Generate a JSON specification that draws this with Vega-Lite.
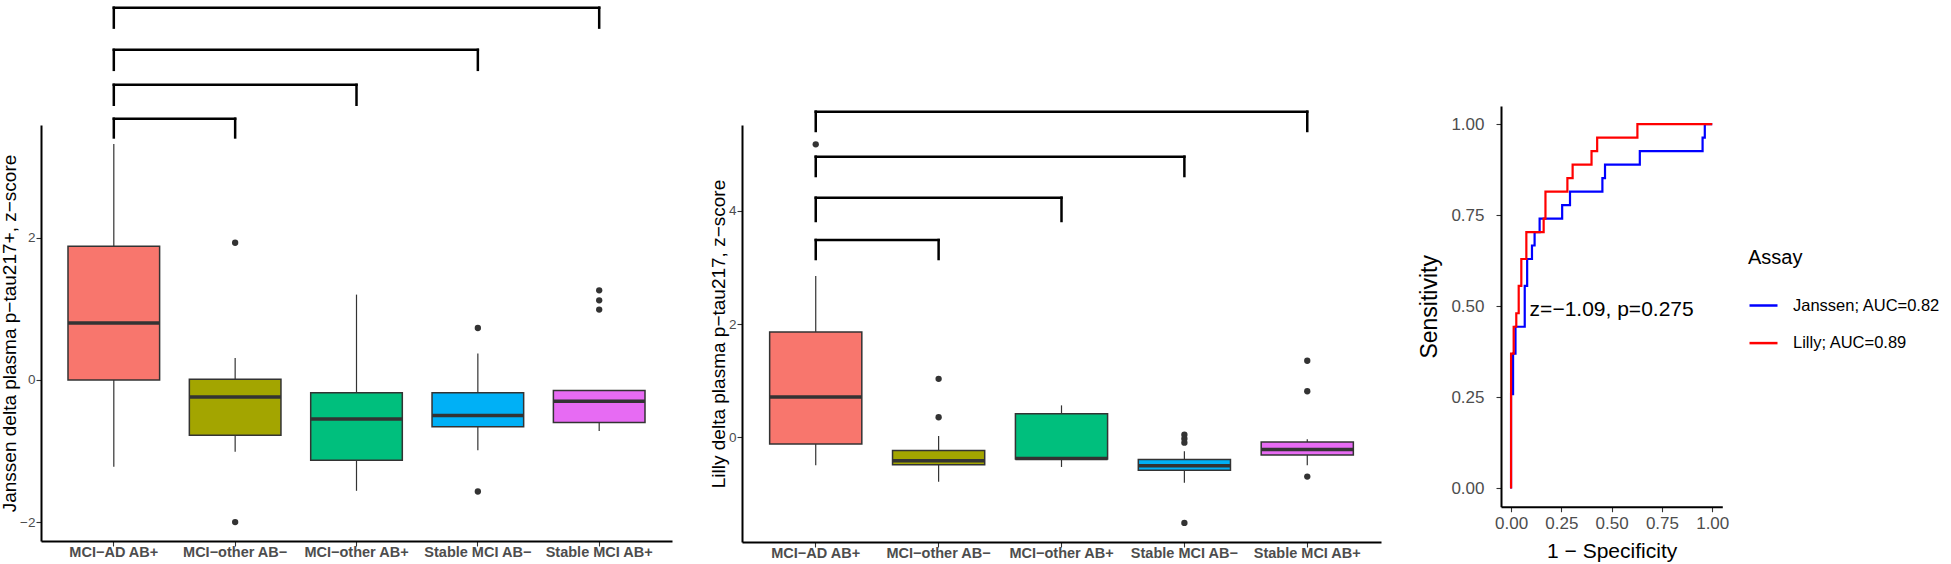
{
  "$schema": "https://vega.github.io/schema/vega-lite/v6.json",
  "background": "white",
  "padding": {"left": 0, "top": 5, "right": 0, "bottom": 0},
  "spacing": 37,
  "resolve": {"legend": {"color": "independent"}},
  "config": {
    "view": {"stroke": null},
    "font": "Liberation Sans",
    "axis": {
      "grid": false,
      "domainColor": "#000000",
      "domainWidth": 2,
      "tickColor": "#333333",
      "tickWidth": 1.1,
      "tickSize": 5,
      "labelColor": "#4D4D4D",
      "labelFont": "Liberation Sans",
      "titleFont": "Liberation Sans",
      "titleFontWeight": "normal",
      "titleColor": "#000000"
    }
  },
  "datasets": {
    "janssen_box": [
      {"group": "MCI−AD AB+", "lower": -1.22, "q1": 0.0, "median": 0.8, "q3": 1.88, "upper": 3.32},
      {"group": "MCI−other AB−", "lower": -1.01, "q1": -0.78, "median": -0.24, "q3": 0.01, "upper": 0.31},
      {"group": "MCI−other AB+", "lower": -1.56, "q1": -1.13, "median": -0.55, "q3": -0.18, "upper": 1.2},
      {"group": "Stable MCI AB−", "lower": -0.99, "q1": -0.66, "median": -0.5, "q3": -0.18, "upper": 0.37},
      {"group": "Stable MCI AB+", "lower": -0.72, "q1": -0.6, "median": -0.3, "q3": -0.15, "upper": -0.15}
    ],
    "janssen_out": [
      {"group": "MCI−other AB−", "value": 1.93},
      {"group": "MCI−other AB−", "value": -2.0},
      {"group": "Stable MCI AB−", "value": 0.73},
      {"group": "Stable MCI AB−", "value": -1.57},
      {"group": "Stable MCI AB+", "value": 1.26},
      {"group": "Stable MCI AB+", "value": 1.12},
      {"group": "Stable MCI AB+", "value": 0.99}
    ],
    "janssen_brackets": [
      {"g1": "MCI−AD AB+", "g2": "Stable MCI AB+", "top": 5.236, "tip": 4.956},
      {"g1": "MCI−AD AB+", "g2": "Stable MCI AB−", "top": 4.643, "tip": 4.362},
      {"g1": "MCI−AD AB+", "g2": "MCI−other AB+", "top": 4.151, "tip": 3.871},
      {"g1": "MCI−AD AB+", "g2": "MCI−other AB−", "top": 3.674, "tip": 3.411}
    ],
    "lilly_box": [
      {"group": "MCI−AD AB+", "lower": -0.5, "q1": -0.124, "median": 0.71, "q3": 1.86, "upper": 2.85},
      {"group": "MCI−other AB−", "lower": -0.79, "q1": -0.49, "median": -0.42, "q3": -0.24, "upper": 0.02},
      {"group": "MCI−other AB+", "lower": -0.53, "q1": -0.39, "median": -0.38, "q3": 0.41, "upper": 0.56},
      {"group": "Stable MCI AB−", "lower": -0.81, "q1": -0.59, "median": -0.51, "q3": -0.4, "upper": -0.25},
      {"group": "Stable MCI AB+", "lower": -0.5, "q1": -0.32, "median": -0.22, "q3": -0.09, "upper": -0.04}
    ],
    "lilly_out": [
      {"group": "MCI−AD AB+", "value": 5.18},
      {"group": "MCI−other AB−", "value": 1.03},
      {"group": "MCI−other AB−", "value": 0.35},
      {"group": "Stable MCI AB−", "value": 0.04},
      {"group": "Stable MCI AB−", "value": -0.03},
      {"group": "Stable MCI AB−", "value": -0.1},
      {"group": "Stable MCI AB−", "value": -1.52},
      {"group": "Stable MCI AB+", "value": 1.35},
      {"group": "Stable MCI AB+", "value": 0.81},
      {"group": "Stable MCI AB+", "value": -0.7}
    ],
    "lilly_brackets": [
      {"g1": "MCI−AD AB+", "g2": "Stable MCI AB+", "top": 5.758, "tip": 5.416},
      {"g1": "MCI−AD AB+", "g2": "Stable MCI AB−", "top": 4.961, "tip": 4.619},
      {"g1": "MCI−AD AB+", "g2": "MCI−other AB+", "top": 4.235, "tip": 3.823},
      {"g1": "MCI−AD AB+", "g2": "MCI−other AB−", "top": 3.487, "tip": 3.15}
    ],
    "roc": [
      {"assay": "Janssen; AUC=0.82", "i": 0, "fpr": 0, "tpr": 0},
      {"assay": "Janssen; AUC=0.82", "i": 1, "fpr": 0, "tpr": 0.259},
      {"assay": "Janssen; AUC=0.82", "i": 2, "fpr": 0.01, "tpr": 0.259},
      {"assay": "Janssen; AUC=0.82", "i": 3, "fpr": 0.01, "tpr": 0.37},
      {"assay": "Janssen; AUC=0.82", "i": 4, "fpr": 0.022, "tpr": 0.37},
      {"assay": "Janssen; AUC=0.82", "i": 5, "fpr": 0.022, "tpr": 0.444},
      {"assay": "Janssen; AUC=0.82", "i": 6, "fpr": 0.068, "tpr": 0.444},
      {"assay": "Janssen; AUC=0.82", "i": 7, "fpr": 0.068, "tpr": 0.556},
      {"assay": "Janssen; AUC=0.82", "i": 8, "fpr": 0.08, "tpr": 0.556},
      {"assay": "Janssen; AUC=0.82", "i": 9, "fpr": 0.08, "tpr": 0.63},
      {"assay": "Janssen; AUC=0.82", "i": 10, "fpr": 0.104, "tpr": 0.63},
      {"assay": "Janssen; AUC=0.82", "i": 11, "fpr": 0.104, "tpr": 0.667},
      {"assay": "Janssen; AUC=0.82", "i": 12, "fpr": 0.117, "tpr": 0.667},
      {"assay": "Janssen; AUC=0.82", "i": 13, "fpr": 0.117, "tpr": 0.704},
      {"assay": "Janssen; AUC=0.82", "i": 14, "fpr": 0.142, "tpr": 0.704},
      {"assay": "Janssen; AUC=0.82", "i": 15, "fpr": 0.142, "tpr": 0.741},
      {"assay": "Janssen; AUC=0.82", "i": 16, "fpr": 0.254, "tpr": 0.741},
      {"assay": "Janssen; AUC=0.82", "i": 17, "fpr": 0.254, "tpr": 0.778},
      {"assay": "Janssen; AUC=0.82", "i": 18, "fpr": 0.293, "tpr": 0.778},
      {"assay": "Janssen; AUC=0.82", "i": 19, "fpr": 0.293, "tpr": 0.815},
      {"assay": "Janssen; AUC=0.82", "i": 20, "fpr": 0.454, "tpr": 0.815},
      {"assay": "Janssen; AUC=0.82", "i": 21, "fpr": 0.454, "tpr": 0.852},
      {"assay": "Janssen; AUC=0.82", "i": 22, "fpr": 0.467, "tpr": 0.852},
      {"assay": "Janssen; AUC=0.82", "i": 23, "fpr": 0.467, "tpr": 0.889},
      {"assay": "Janssen; AUC=0.82", "i": 24, "fpr": 0.64, "tpr": 0.889},
      {"assay": "Janssen; AUC=0.82", "i": 25, "fpr": 0.64, "tpr": 0.926},
      {"assay": "Janssen; AUC=0.82", "i": 26, "fpr": 0.952, "tpr": 0.926},
      {"assay": "Janssen; AUC=0.82", "i": 27, "fpr": 0.952, "tpr": 0.963},
      {"assay": "Janssen; AUC=0.82", "i": 28, "fpr": 0.963, "tpr": 0.963},
      {"assay": "Janssen; AUC=0.82", "i": 29, "fpr": 0.963, "tpr": 1.0},
      {"assay": "Janssen; AUC=0.82", "i": 30, "fpr": 1.0, "tpr": 1.0},
      {"assay": "Lilly; AUC=0.89", "i": 0, "fpr": 0, "tpr": 0},
      {"assay": "Lilly; AUC=0.89", "i": 1, "fpr": 0, "tpr": 0.37},
      {"assay": "Lilly; AUC=0.89", "i": 2, "fpr": 0.013, "tpr": 0.37},
      {"assay": "Lilly; AUC=0.89", "i": 3, "fpr": 0.013, "tpr": 0.444},
      {"assay": "Lilly; AUC=0.89", "i": 4, "fpr": 0.026, "tpr": 0.444},
      {"assay": "Lilly; AUC=0.89", "i": 5, "fpr": 0.026, "tpr": 0.481},
      {"assay": "Lilly; AUC=0.89", "i": 6, "fpr": 0.038, "tpr": 0.481},
      {"assay": "Lilly; AUC=0.89", "i": 7, "fpr": 0.038, "tpr": 0.556},
      {"assay": "Lilly; AUC=0.89", "i": 8, "fpr": 0.051, "tpr": 0.556},
      {"assay": "Lilly; AUC=0.89", "i": 9, "fpr": 0.051, "tpr": 0.63},
      {"assay": "Lilly; AUC=0.89", "i": 10, "fpr": 0.076, "tpr": 0.63},
      {"assay": "Lilly; AUC=0.89", "i": 11, "fpr": 0.076, "tpr": 0.704},
      {"assay": "Lilly; AUC=0.89", "i": 12, "fpr": 0.162, "tpr": 0.704},
      {"assay": "Lilly; AUC=0.89", "i": 13, "fpr": 0.162, "tpr": 0.741},
      {"assay": "Lilly; AUC=0.89", "i": 14, "fpr": 0.171, "tpr": 0.741},
      {"assay": "Lilly; AUC=0.89", "i": 15, "fpr": 0.171, "tpr": 0.815},
      {"assay": "Lilly; AUC=0.89", "i": 16, "fpr": 0.28, "tpr": 0.815},
      {"assay": "Lilly; AUC=0.89", "i": 17, "fpr": 0.28, "tpr": 0.852},
      {"assay": "Lilly; AUC=0.89", "i": 18, "fpr": 0.306, "tpr": 0.852},
      {"assay": "Lilly; AUC=0.89", "i": 19, "fpr": 0.306, "tpr": 0.889},
      {"assay": "Lilly; AUC=0.89", "i": 20, "fpr": 0.4, "tpr": 0.889},
      {"assay": "Lilly; AUC=0.89", "i": 21, "fpr": 0.4, "tpr": 0.926},
      {"assay": "Lilly; AUC=0.89", "i": 22, "fpr": 0.428, "tpr": 0.926},
      {"assay": "Lilly; AUC=0.89", "i": 23, "fpr": 0.428, "tpr": 0.963},
      {"assay": "Lilly; AUC=0.89", "i": 24, "fpr": 0.628, "tpr": 0.963},
      {"assay": "Lilly; AUC=0.89", "i": 25, "fpr": 0.628, "tpr": 1.0},
      {"assay": "Lilly; AUC=0.89", "i": 26, "fpr": 1.0, "tpr": 1.0}
    ],
    "roc_note": [
      {"x": 0.5, "y": 0.49, "label": "z=−1.09, p=0.275"}
    ]
  },
  "hconcat": [
    {
      "width": 631,
      "height": 416,
      "layer": [
        {
          "data": {"name": "janssen_box"},
          "mark": {"type": "rule", "color": "#333333", "strokeWidth": 1.2},
          "encoding": {
            "x": {"field": "group", "type": "nominal", "title": null,
              "scale": {"type": "band", "domain": ["MCI−AD AB+", "MCI−other AB−", "MCI−other AB+", "Stable MCI AB−", "Stable MCI AB+"], "paddingInner": 0, "paddingOuter": 0.1},
              "axis": {"labelAngle": 0, "labelFont": "Liberation Sans", "labelFontWeight": "bold", "labelFontSize": 14.5, "labelPadding": -1}},
            "y": {"field": "lower", "type": "quantitative", "title": "Janssen delta plasma p−tau217+, z−score",
              "scale": {"domain": [-2.266, 3.586], "nice": false, "zero": false},
              "axis": {"values": [-2, 0, 2], "format": ".0f", "labelFontSize": 13.5, "labelPadding": 1, "titleFontSize": 19, "titlePadding": 0}},
            "y2": {"field": "upper"}
          }
        },
        {
          "data": {"name": "janssen_box"},
          "mark": {"type": "bar", "width": {"band": 0.755}, "stroke": "#333333", "strokeWidth": 1.5},
          "encoding": {
            "x": {"field": "group", "type": "nominal", "title": null},
            "y": {"field": "q1", "type": "quantitative", "title": "Janssen delta plasma p−tau217+, z−score"},
            "y2": {"field": "q3"},
            "fill": {"field": "group", "type": "nominal", "legend": null,
              "scale": {"domain": ["MCI−AD AB+", "MCI−other AB−", "MCI−other AB+", "Stable MCI AB−", "Stable MCI AB+"], "range": ["#F8766D", "#A3A500", "#00BF7D", "#00B0F6", "#E76BF3"]}}
          }
        },
        {
          "data": {"name": "janssen_box"},
          "mark": {"type": "tick", "color": "#333333", "size": 91.6, "thickness": 3.5, "orient": "horizontal", "opacity": 1},
          "encoding": {
            "x": {"field": "group", "type": "nominal", "title": null},
            "y": {"field": "median", "type": "quantitative", "title": "Janssen delta plasma p−tau217+, z−score"}
          }
        },
        {
          "data": {"name": "janssen_out"},
          "mark": {"type": "circle", "color": "#333333", "opacity": 1, "size": 40},
          "encoding": {
            "x": {"field": "group", "type": "nominal", "title": null},
            "y": {"field": "value", "type": "quantitative", "title": "Janssen delta plasma p−tau217+, z−score"}
          }
        },
        {
          "data": {"name": "janssen_brackets"},
          "mark": {"type": "rule", "color": "#000000", "strokeWidth": 2.5, "strokeCap": "square"},
          "encoding": {
            "x": {"field": "g1", "type": "nominal", "title": null},
            "x2": {"field": "g2"},
            "y": {"field": "top", "type": "quantitative", "title": "Janssen delta plasma p−tau217+, z−score"}
          }
        },
        {
          "data": {"name": "janssen_brackets"},
          "mark": {"type": "rule", "color": "#000000", "strokeWidth": 2.5, "strokeCap": "square"},
          "encoding": {
            "x": {"field": "g1", "type": "nominal", "title": null},
            "y": {"field": "top", "type": "quantitative", "title": "Janssen delta plasma p−tau217+, z−score"},
            "y2": {"field": "tip"}
          }
        },
        {
          "data": {"name": "janssen_brackets"},
          "mark": {"type": "rule", "color": "#000000", "strokeWidth": 2.5, "strokeCap": "square"},
          "encoding": {
            "x": {"field": "g2", "type": "nominal", "title": null},
            "y": {"field": "top", "type": "quantitative", "title": "Janssen delta plasma p−tau217+, z−score"},
            "y2": {"field": "tip"}
          }
        }
      ]
    },
    {
      "width": 639,
      "height": 417,
      "layer": [
        {
          "data": {"name": "lilly_box"},
          "mark": {"type": "rule", "color": "#333333", "strokeWidth": 1.2},
          "encoding": {
            "x": {"field": "group", "type": "nominal", "title": null,
              "scale": {"type": "band", "domain": ["MCI−AD AB+", "MCI−other AB−", "MCI−other AB+", "Stable MCI AB−", "Stable MCI AB+"], "paddingInner": 0, "paddingOuter": 0.1},
              "axis": {"labelAngle": 0, "labelFont": "Liberation Sans", "labelFontWeight": "bold", "labelFontSize": 14.5, "labelPadding": -1}},
            "y": {"field": "lower", "type": "quantitative", "title": "Lilly delta plasma p−tau217, z−score",
              "scale": {"domain": [-1.858, 5.522], "nice": false, "zero": false},
              "axis": {"values": [0, 2, 4], "format": ".0f", "labelFontSize": 13.5, "labelPadding": 1, "titleFontSize": 19, "titlePadding": 0}},
            "y2": {"field": "upper"}
          }
        },
        {
          "data": {"name": "lilly_box"},
          "mark": {"type": "bar", "width": {"band": 0.75}, "stroke": "#333333", "strokeWidth": 1.5},
          "encoding": {
            "x": {"field": "group", "type": "nominal", "title": null},
            "y": {"field": "q1", "type": "quantitative", "title": "Lilly delta plasma p−tau217, z−score"},
            "y2": {"field": "q3"},
            "fill": {"field": "group", "type": "nominal", "legend": null,
              "scale": {"domain": ["MCI−AD AB+", "MCI−other AB−", "MCI−other AB+", "Stable MCI AB−", "Stable MCI AB+"], "range": ["#F8766D", "#A3A500", "#00BF7D", "#00B0F6", "#E76BF3"]}}
          }
        },
        {
          "data": {"name": "lilly_box"},
          "mark": {"type": "tick", "color": "#333333", "size": 92.2, "thickness": 3.5, "orient": "horizontal", "opacity": 1},
          "encoding": {
            "x": {"field": "group", "type": "nominal", "title": null},
            "y": {"field": "median", "type": "quantitative", "title": "Lilly delta plasma p−tau217, z−score"}
          }
        },
        {
          "data": {"name": "lilly_out"},
          "mark": {"type": "circle", "color": "#333333", "opacity": 1, "size": 40},
          "encoding": {
            "x": {"field": "group", "type": "nominal", "title": null},
            "y": {"field": "value", "type": "quantitative", "title": "Lilly delta plasma p−tau217, z−score"}
          }
        },
        {
          "data": {"name": "lilly_brackets"},
          "mark": {"type": "rule", "color": "#000000", "strokeWidth": 2.5, "strokeCap": "square"},
          "encoding": {
            "x": {"field": "g1", "type": "nominal", "title": null},
            "x2": {"field": "g2"},
            "y": {"field": "top", "type": "quantitative", "title": "Lilly delta plasma p−tau217, z−score"}
          }
        },
        {
          "data": {"name": "lilly_brackets"},
          "mark": {"type": "rule", "color": "#000000", "strokeWidth": 2.5, "strokeCap": "square"},
          "encoding": {
            "x": {"field": "g1", "type": "nominal", "title": null},
            "y": {"field": "top", "type": "quantitative", "title": "Lilly delta plasma p−tau217, z−score"},
            "y2": {"field": "tip"}
          }
        },
        {
          "data": {"name": "lilly_brackets"},
          "mark": {"type": "rule", "color": "#000000", "strokeWidth": 2.5, "strokeCap": "square"},
          "encoding": {
            "x": {"field": "g2", "type": "nominal", "title": null},
            "y": {"field": "top", "type": "quantitative", "title": "Lilly delta plasma p−tau217, z−score"},
            "y2": {"field": "tip"}
          }
        },
        {
          "mark": {"type": "rule", "opacity": 0, "strokeWidth": 2.5},
          "encoding": {
            "y": {"datum": 7.602, "type": "quantitative", "title": "Lilly delta plasma p−tau217, z−score"}
          }
        }
      ]
    },
    {
      "width": 221.3,
      "height": 381.7,
      "layer": [
        {
          "data": {"name": "roc"},
          "mark": {"type": "line", "strokeWidth": 2.2},
          "encoding": {
            "x": {"field": "fpr", "type": "quantitative", "title": "1 − Specificity",
              "scale": {"domain": [-0.05, 1.05], "nice": false, "zero": false},
              "axis": {"values": [0, 0.25, 0.5, 0.75, 1], "format": ".2f", "labelFontSize": 17, "labelPadding": 4, "titleFontSize": 21, "titlePadding": 9}},
            "y": {"field": "tpr", "type": "quantitative", "title": "Sensitivity",
              "scale": {"domain": [-0.05, 1.05], "range": [381.7, -19], "nice": false, "zero": false},
              "axis": {"values": [0, 0.25, 0.5, 0.75, 1], "format": ".2f", "labelFontSize": 17, "labelPadding": 12, "titleFontSize": 23, "titlePadding": 9}},
            "color": {"field": "assay", "type": "nominal",
              "scale": {"domain": ["Janssen; AUC=0.82", "Lilly; AUC=0.89"], "range": ["#0000FF", "#FF0000"]},
              "legend": {"title": "Assay", "orient": "none", "legendX": 247, "legendY": 123, "padding": 0,
                "titleFontSize": 20, "titleFontWeight": "normal", "titleColor": "#000000", "titlePadding": 22,
                "labelFontSize": 16.5, "labelColor": "#000000", "labelOffset": 14,
                "symbolType": "stroke", "symbolSize": 784, "symbolStrokeWidth": 2.5, "rowPadding": 13.6}},
            "order": {"field": "i", "type": "quantitative"}
          }
        },
        {
          "data": {"name": "roc_note"},
          "mark": {"type": "text", "fontSize": 21, "color": "#000000", "align": "center", "baseline": "middle"},
          "encoding": {
            "x": {"field": "x", "type": "quantitative", "title": "1 − Specificity"},
            "y": {"field": "y", "type": "quantitative", "title": "Sensitivity"},
            "text": {"field": "label"}
          }
        },
        {
          "mark": {"type": "rule", "opacity": 0, "strokeWidth": 2.5},
          "encoding": {
            "y": {"datum": 1.3204, "type": "quantitative", "title": "Sensitivity"}
          }
        }
      ]
    }
  ]
}
